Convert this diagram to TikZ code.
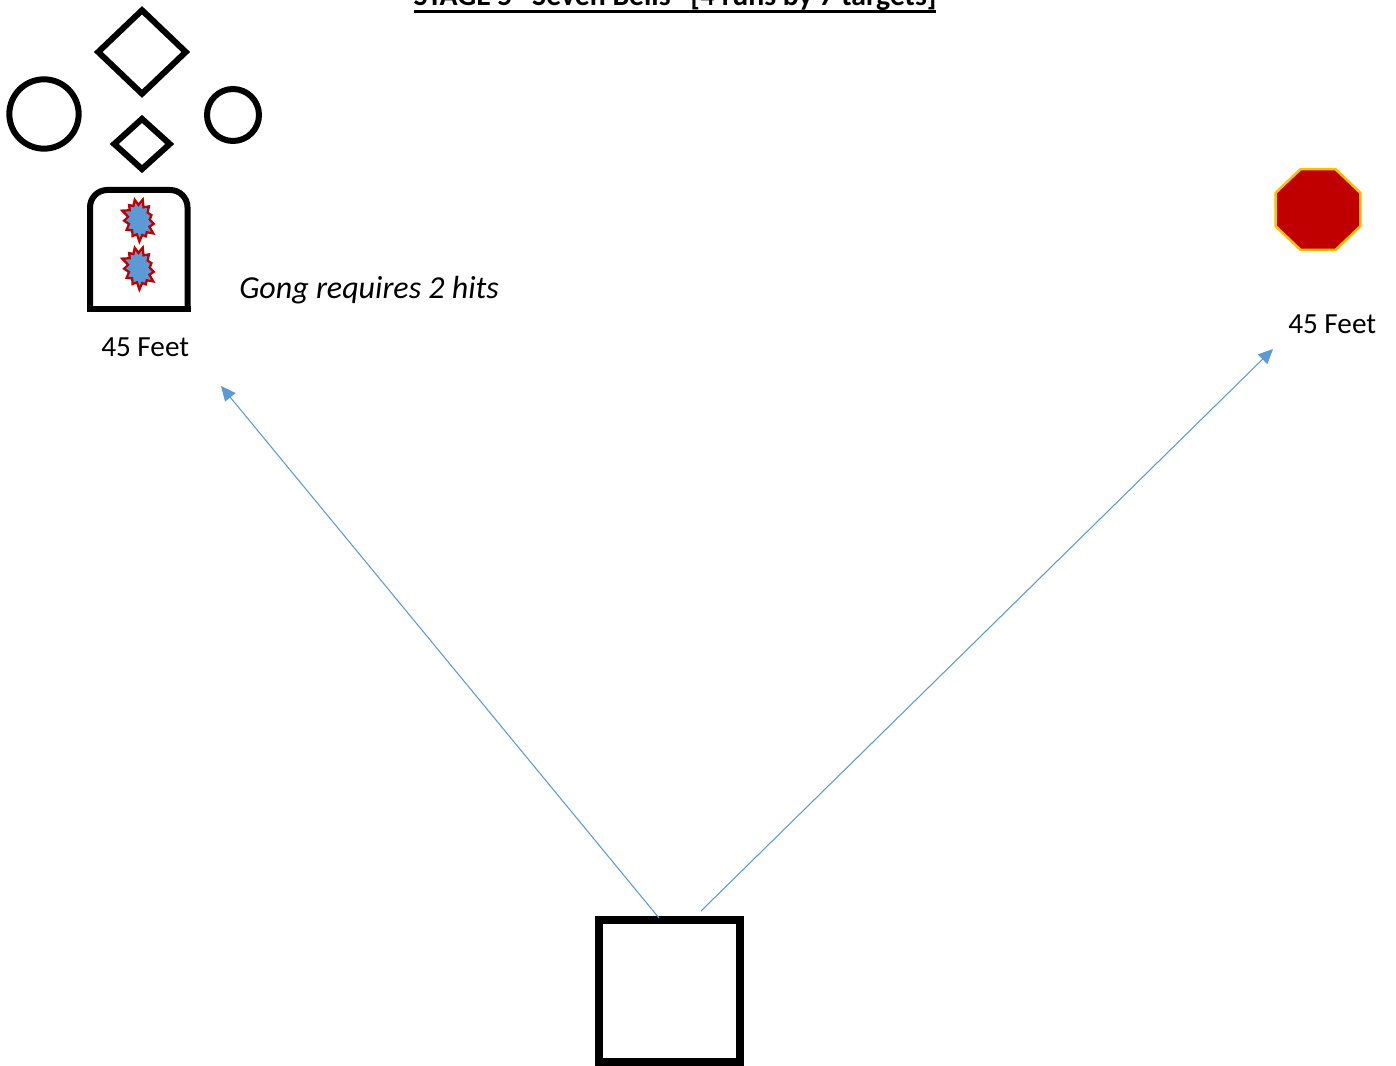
\documentclass[tikz,border=0pt]{standalone}
\usepackage{fontspec}
\setmainfont{Carlito}
\usetikzlibrary{shapes.geometric, shapes.symbols, arrows.meta}
\definecolor{lineablue}{RGB}{91,155,213}
\definecolor{paradared}{RGB}{192,0,0}
\definecolor{paradaedge}{RGB}{255,192,0}
\newcommand{\rayado}[1]{\setbox0=\hbox{#1}\rlap{\rule[-5pt]{\wd0}{2.3pt}}\box0}
\tikzset{
  plate/.style={circle, draw=black, line width=4.5pt, inner sep=0pt},
  rombo/.style={diamond, draw=black, line width=4.5pt, inner sep=0pt},
  hit/.style={starburst, starburst points=13, starburst point height=5.5pt,
              draw=paradared, fill=lineablue, line width=1.7pt, inner sep=0pt,
              minimum width=27pt, minimum height=34pt, rotate=12},
  etiqueta/.style={anchor=base west, inner sep=0pt, font=\fontsize{21.9}{26}\selectfont},
  flecha/.style={-{Triangle[length=11pt, width=10pt]}, lineablue, line width=0.8pt}
}
\pgfmathsetseed{37}
\begin{document}
\begin{tikzpicture}[x=0.75pt, y=-0.75pt]
    \useasboundingbox (0,0) rectangle (1396,1066);
    \clip (0,0) rectangle (1396,1066);
    \node[anchor=base, inner sep=0pt, font=\fontsize{22.3}{26}\selectfont\bfseries]
      (titulo) at (675,6) {\rayado{STAGE 5 ``Seven Bells'' [4 runs by 7 targets]}};
    % plates
    \node[rombo, minimum width=67.5pt, minimum height=64.5pt] (rombo1) at (142,52) {};
    \node[rombo, minimum width=43.5pt, minimum height=39.5pt] (rombo2) at (142,144) {};
    \node[plate, minimum size=52pt] (plate1) at (44,114) {};
    \node[plate, minimum size=39pt] (plate2) at (233,115) {};
    % gong
    \draw[line width=4.5pt, rounded corners=13pt] (90,309) -- (90,190)
      -- (187.5,190) -- (187.5,309);
    \draw[line width=4.5pt, line cap=rect] (90,309) -- (187.5,309);
    \node[hit] (hit1) at (139,220) {};
    \node[hit] (hit2) at (139,268) {};
    \node[etiqueta, font=\fontsize{24}{28}\selectfont\itshape] (nota) at (239,299) {Gong requires 2 hits};
    \node[etiqueta] (dist1) at (101,357) {45 Feet};
    % stop plate
    \node[regular polygon, regular polygon sides=8, draw=paradaedge, fill=paradared,
      line width=1.9pt, inner sep=0pt, minimum size=67.5pt, xscale=1.02, yscale=.97,
      transform shape] (parada) at (1318,209.5) {};
    \node[etiqueta] (dist2) at (1288,334) {45 Feet};
    % box
    \node[rectangle, draw=black, line width=6.3pt, inner sep=0pt,
      minimum width=105.75pt, minimum height=106.5pt] (caja) at (669.5,991) {};
    \coordinate (salida1) at (659,918);
    \coordinate (salida2) at (701,911);
    \coordinate (meta1) at (221,386);
    \coordinate (meta2) at (1273,349);
    \draw[flecha] (salida1) -- (meta1);
    \draw[flecha] (salida2) -- (meta2);
\end{tikzpicture}
\end{document}
